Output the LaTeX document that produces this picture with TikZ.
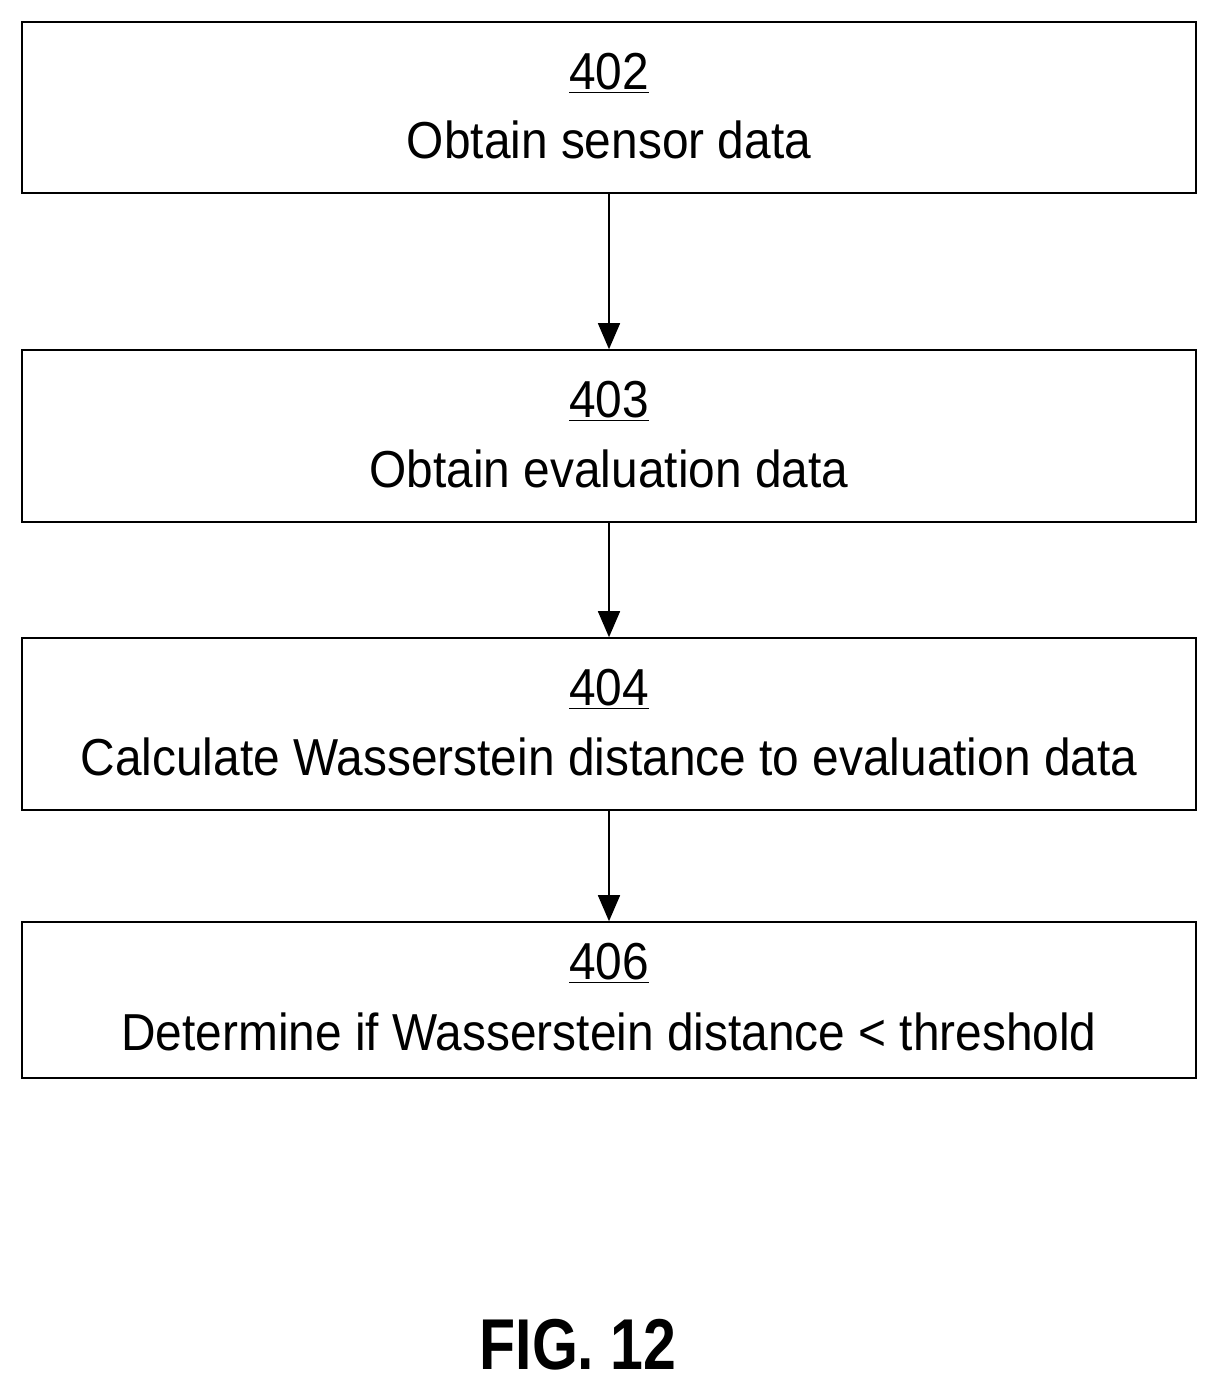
\documentclass[tikz,border=0pt]{standalone}
\usepackage{fontspec}
\setmainfont{Liberation Sans}[FakeStretch=0.92]
\newfontfamily\figfont{Liberation Sans}[FakeStretch=0.82]
\usetikzlibrary{arrows.meta}
\begin{document}
\begin{tikzpicture}[x=1pt,y=1pt,
  box/.style={draw,line width=1.6pt,minimum width=1174pt,align=center,inner sep=0pt},
  arr/.style={line width=1.6pt,-{Triangle[length=26pt,width=22pt]}},
  txt/.style={font=\fontsize{52}{64}\selectfont}]
\useasboundingbox (0,0) rectangle (1219,-1391);
\node[box,minimum height=171pt] (b1) at (609,-107.5) {};
\node[box,minimum height=172pt] (b2) at (609,-436) {};
\node[box,minimum height=172pt] (b3) at (609,-724) {};
\node[box,minimum height=156pt] (b4) at (609,-1000) {};
\node[txt] (n1) at (609,-73) {\underline{402}};
\node[txt] (t1) at (609,-140) {Obtain sensor data};
\node[txt] (n2) at (609,-401) {\underline{403}};
\node[txt] (t2) at (609,-469) {Obtain evaluation data};
\node[txt] (n3) at (609,-689) {\underline{404}};
\node[txt] (t3) at (609,-757) {Calculate Wasserstein distance to evaluation data};
\node[txt] (n4) at (609,-963) {\underline{406}};
\node[txt] (t4) at (609,-1032) {Determine if Wasserstein distance < threshold};
\draw[arr] (b1.south) -- (b2.north);
\draw[arr] (b2.south) -- (b3.north);
\draw[arr] (b3.south) -- (b4.north);
\node[font=\figfont\bfseries\fontsize{72}{80}\selectfont] (fig) at (578,-1345) {FIG. 12};
\end{tikzpicture}
\end{document}
